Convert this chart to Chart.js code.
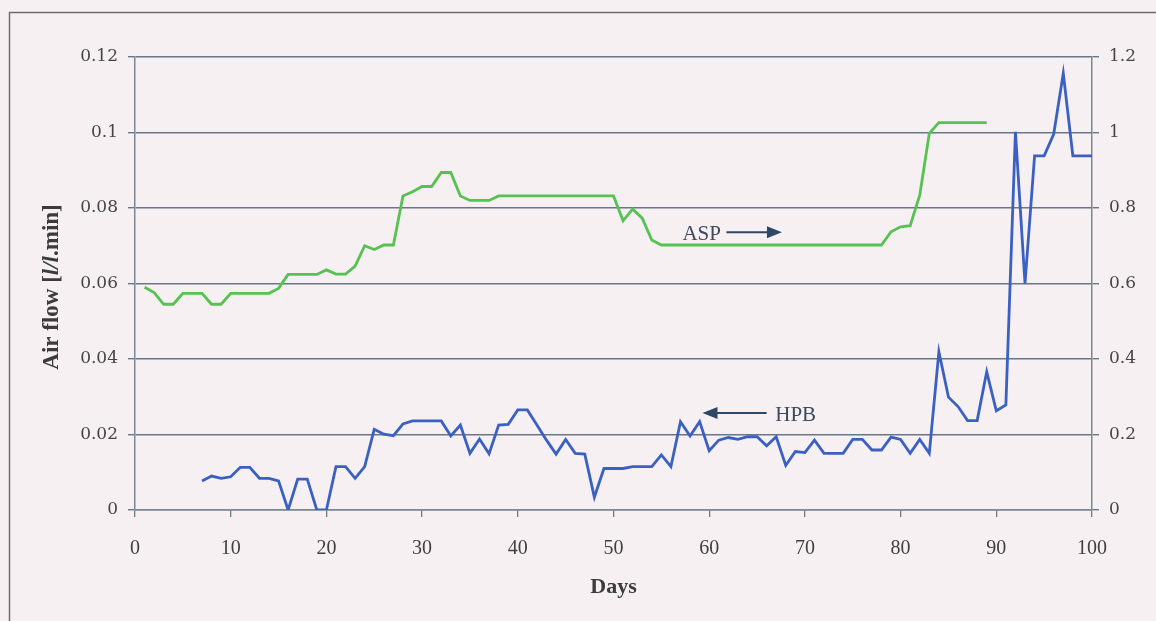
<!DOCTYPE html>
<html>
<head>
<meta charset="utf-8">
<title>Air flow</title>
<script src="https://cdn.jsdelivr.net/npm/chart.js@4.4.1/dist/chart.umd.min.js"></script>
<style>
  html, body { margin: 0; padding: 0; background: #f7f0f3; }
  #wrap { position: relative; width: 1156px; height: 621px; }
</style>
</head>
<body>
<div id="wrap"><canvas id="chart" width="1156" height="621"></canvas></div>
<script>
// Days with an ASP measurement and the ASP air flow (right axis)
const aspDays = [1,2,3,4,5,6,7,8,9,10,11,12,13,14,15,16,17,18,19,20,
  21,22,23,24,25,26,27,28,29,30,31,32,33,34,35,36,37,38,39,40,
  41,42,43,44,45,46,47,48,49,50,51,52,53,54,55,56,57,58,59,60,
  61,62,63,64,65,66,67,68,69,70,71,72,73,74,75,76,77,78,79,80,
  81,82,83,84,85,86,87,88,89];
const aspFlow = [0.590,0.576,0.545,0.545,0.574,0.574,0.574,0.545,0.545,0.574,
  0.574,0.574,0.574,0.574,0.587,0.624,0.624,0.624,0.624,0.636,
  0.625,0.625,0.646,0.700,0.690,0.702,0.702,0.832,0.843,0.857,
  0.857,0.894,0.894,0.832,0.820,0.820,0.820,0.832,0.832,0.832,
  0.832,0.832,0.832,0.832,0.832,0.832,0.832,0.832,0.832,0.832,
  0.766,0.797,0.773,0.715,0.702,0.702,0.702,0.702,0.702,0.702,
  0.702,0.702,0.702,0.702,0.702,0.702,0.702,0.702,0.702,0.702,
  0.702,0.702,0.702,0.702,0.702,0.702,0.702,0.702,0.737,0.750,
  0.753,0.834,0.998,1.026,1.026,1.026,1.026,1.026,1.026];

// Days with an HPB measurement and the HPB air flow (left axis)
const hpbDays = [7,8,9,10,11,12,13,14,15,16,17,18,19,20,
  21,22,23,24,25,26,27,28,29,30,31,32,33,34,35,36,37,38,39,40,
  41,42,43,44,45,46,47,48,49,50,51,52,53,54,55,56,57,58,59,60,
  61,62,63,64,65,66,67,68,69,70,71,72,73,74,75,76,77,78,79,80,
  81,82,83,84,85,86,87,88,89,90,91,92,93,94,95,96,97,98,99,100];
const hpbFlow = [0.0077,0.0090,0.0084,0.0088,0.0113,0.0113,0.0084,0.0084,0.0077,0.0000,
  0.0082,0.0082,0.0000,0.0000,0.0115,0.0115,0.0084,0.0115,0.0214,0.0201,
  0.0197,0.0228,0.0236,0.0236,0.0236,0.0236,0.0196,0.0225,0.0150,0.0188,
  0.0149,0.0225,0.0227,0.0265,0.0265,0.0225,0.0185,0.0148,0.0187,0.0150,
  0.0148,0.0034,0.0110,0.0110,0.0110,0.0115,0.0115,0.0115,0.0146,0.0115,
  0.0234,0.0196,0.0234,0.0157,0.0185,0.0192,0.0187,0.0194,0.0194,0.0170,
  0.0194,0.0118,0.0155,0.0152,0.0185,0.0150,0.0150,0.0150,0.0187,0.0187,
  0.0159,0.0159,0.0193,0.0187,0.0150,0.0187,0.0150,0.0419,0.0299,0.0274,
  0.0237,0.0237,0.0366,0.0263,0.0278,0.1002,0.0600,0.0938,0.0938,0.0996,
  0.1157,0.0938,0.0938,0.0938];

// Axis ranges and tick steps
const dayTicks = [0, 100, 10];
const leftTicks = [0, 0.12, 0.02];
const rightTicks = [0, 1.2, 0.2];

const SERIF = "'Liberation Serif', 'Times New Roman', serif";
const TICK_SERIF = "'DejaVu Serif', serif";

const pairs = (xs, ys) => xs.map((x, i) => ({ x: x, y: ys[i] }));
const trimNum = v => String(parseFloat(v.toFixed(3)));

// Page frame, y-axis title with italic unit, and the series arrows
const decorations = {
  id: 'decorations',
  beforeDraw(chart) {
    const ctx = chart.ctx;
    ctx.save();
    ctx.fillStyle = '#f7f0f3';
    ctx.fillRect(0, 0, chart.width, chart.height);
    ctx.strokeStyle = '#6d6d6d';
    ctx.lineWidth = 1.5;
    ctx.strokeRect(9.5, 12.5, chart.width + 40, chart.height + 40);
    ctx.restore();
  },
  afterDraw(chart) {
    const ctx = chart.ctx;
    const xs = chart.scales.x, yl = chart.scales.yLeft;
    const X = v => xs.getPixelForValue(v), Y = v => yl.getPixelForValue(v);

    // y-axis title: "Air flow [l/l.min]" with the unit letters in italic
    const parts = [
      ['Air flow [', 'bold 23px ' + SERIF],
      ['l/l', 'italic bold 23px ' + SERIF],
      ['.min]', 'bold 23px ' + SERIF]
    ];
    ctx.save();
    let total = 0;
    parts.forEach(p => { ctx.font = p[1]; total += ctx.measureText(p[0]).width; });
    ctx.translate(58, 287);
    ctx.rotate(-Math.PI / 2);
    ctx.fillStyle = '#3b3b3b';
    ctx.textBaseline = 'alphabetic';
    let cx = -total / 2;
    parts.forEach(p => {
      ctx.font = p[1];
      ctx.fillText(p[0], cx, 0);
      cx += ctx.measureText(p[0]).width;
    });
    ctx.restore();

    // series labels with arrows pointing at their axis
    const arrow = (x0, x1, y) => {
      const dir = Math.sign(x1 - x0);
      ctx.beginPath();
      ctx.moveTo(x0, y);
      ctx.lineTo(x1 - dir * 12, y);
      ctx.stroke();
      ctx.beginPath();
      ctx.moveTo(x1, y);
      ctx.lineTo(x1 - dir * 15, y - 6);
      ctx.lineTo(x1 - dir * 15, y + 6);
      ctx.closePath();
      ctx.fill();
    };
    ctx.save();
    ctx.font = '21px ' + SERIF;
    ctx.fillStyle = '#3c4a5c';
    ctx.strokeStyle = '#2c4866';
    ctx.lineWidth = 2;
    ctx.textBaseline = 'alphabetic';
    ctx.fillText('ASP', X(57.2), Y(0.0715));
    ctx.fillStyle = '#2c4866';
    arrow(X(61.8), X(67.6), Y(0.0736));
    ctx.fillStyle = '#3c4a5c';
    ctx.fillText('HPB', X(66.9), Y(0.0236));
    ctx.fillStyle = '#2c4866';
    arrow(X(66.0), X(59.3), Y(0.0257));
    ctx.restore();
  }
};

new Chart(document.getElementById('chart'), {
  type: 'line',
  data: {
    datasets: [
      {
        label: 'ASP',
        data: pairs(aspDays, aspFlow),
        yAxisID: 'yRight',
        borderColor: '#55c251',
        borderWidth: 2.8,
        pointRadius: 0,
        tension: 0,
        fill: false
      },
      {
        label: 'HPB',
        data: pairs(hpbDays, hpbFlow),
        yAxisID: 'yLeft',
        borderColor: '#3a60c2',
        borderWidth: 2.8,
        pointRadius: 0,
        tension: 0,
        fill: false
      }
    ]
  },
  options: {
    responsive: false,
    animation: false,
    layout: { padding: { top: 57, left: 0, right: 0, bottom: 0 } },
    plugins: { legend: { display: false }, tooltip: { enabled: false } },
    scales: {
      x: {
        type: 'linear',
        position: 'bottom',
        min: dayTicks[0], max: dayTicks[1],
        ticks: { stepSize: dayTicks[2], color: '#404040', padding: 20,
                 font: { family: SERIF, size: 20 } },
        grid: { drawOnChartArea: false, drawTicks: true, tickLength: 7,
                color: '#6f7a85', lineWidth: 1.3 },
        border: { color: '#7d8790', width: 1.5 },
        title: { display: true, text: 'Days', color: '#3b3b3b',
                 font: { family: SERIF, size: 22, weight: 'bold' },
                 padding: { top: 0, bottom: 20 } },
        afterFit(scale) { scale.height = 111; }
      },
      yLeft: {
        type: 'linear',
        position: 'left',
        min: leftTicks[0], max: leftTicks[1],
        ticks: { stepSize: leftTicks[2], color: '#454545', padding: 10,
                 font: { family: TICK_SERIF, size: 17 },
                 callback: v => trimNum(v) },
        grid: { color: '#66778a', lineWidth: 1.4, tickLength: 7 },
        border: { color: '#7d8790', width: 1.5 },
        afterFit(scale) { scale.width = 135; }
      },
      yRight: {
        type: 'linear',
        position: 'right',
        min: rightTicks[0], max: rightTicks[1],
        ticks: { stepSize: rightTicks[2], color: '#454545', padding: 10,
                 font: { family: TICK_SERIF, size: 17 },
                 callback: v => trimNum(v) },
        grid: { drawOnChartArea: false, color: '#66778a', lineWidth: 1.4, tickLength: 7 },
        border: { color: '#7d8790', width: 1.5 },
        afterFit(scale) { scale.width = 64; }
      }
    }
  },
  plugins: [decorations]
});
</script>
</body>
</html>
